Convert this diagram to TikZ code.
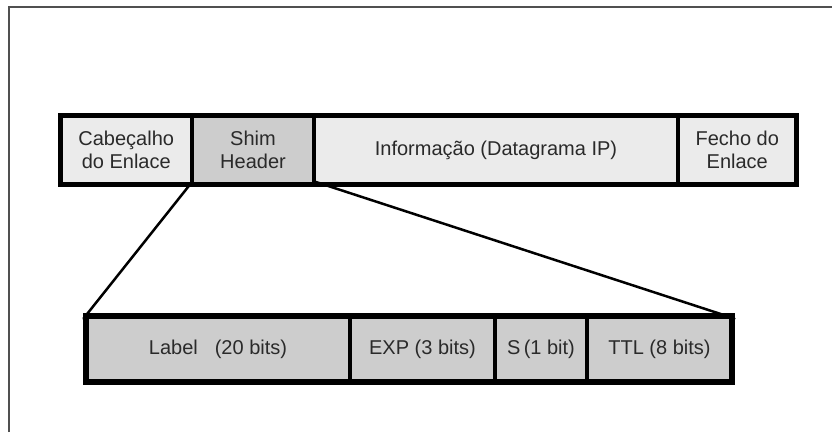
\documentclass[tikz,border=0pt]{standalone}
\usepackage{fontspec}
\setmainfont{Liberation Sans}
\definecolor{cellLight}{HTML}{EBEBEB}
\definecolor{cellDark}{HTML}{CDCDCD}
\definecolor{txt}{HTML}{2A2A2A}
\definecolor{frameCol}{HTML}{505050}
\tikzset{
  cell/.style={draw=black, line width=4.5pt, inner sep=0pt, outer sep=0pt,
    align=center, text=txt, font=\fontsize{20}{23}\selectfont},
  lightcell/.style={cell, fill=cellLight},
  darkcell/.style={cell, fill=cellDark},
  outerbox/.style={draw=black, line width=5.5pt},
  link/.style={draw=black, line width=2.5pt, line cap=round},
}
\begin{document}
\begin{tikzpicture}[x=1pt, y=-1pt]
\useasboundingbox (0,0) rectangle (832,432);
\fill[white] (0,0) rectangle (832,432);
% frame
\draw[frameCol, line width=2.5pt] (9,432) -- (9,7) -- (832,7);
% upper bar (cells between x boundaries 60.5,192,314,678,796.5 ; y 115.5..184.5)
\node[lightcell, minimum width=131.5pt, minimum height=69pt] (cab) at (126.25,150) {Cabeçalho\\do Enlace};
\node[darkcell, minimum width=122pt, minimum height=69pt] (shim) at (253,150) {Shim\\Header};
\node[lightcell, minimum width=364pt, minimum height=69pt] (info) at (496,150) {Informação (Datagrama IP)};
\node[lightcell, minimum width=118.5pt, minimum height=69pt] (fecho) at (737.25,150) {Fecho do\\Enlace};
\draw[outerbox] (cab.north west) rectangle (fecho.south east);
% lower bar (x boundaries 86,350,495,587,732 ; y 316..382)
\node[darkcell, minimum width=264pt, minimum height=66pt] (lbl) at (218,349) {Label\hspace{17pt}(20 bits)};
\node[darkcell, minimum width=145pt, minimum height=66pt] (exp) at (422.5,349) {EXP (3 bits)};
\node[darkcell, minimum width=92pt, minimum height=66pt] (sbit) at (541,349) {S\,(1 bit)};
\node[darkcell, minimum width=145pt, minimum height=66pt] (ttl) at (659.5,349) {TTL (8 bits)};
\draw[outerbox] (lbl.north west) rectangle (ttl.south east);
% connectors
\draw[link] ([yshift=2.5pt]shim.south west) -- ([xshift=-2.5pt,yshift=-2.5pt]lbl.north west);
\draw[link] ([xshift=2pt,yshift=2.5pt]shim.south east) -- ([xshift=2.5pt,yshift=-2.5pt]ttl.north east);
\end{tikzpicture}
\end{document}
